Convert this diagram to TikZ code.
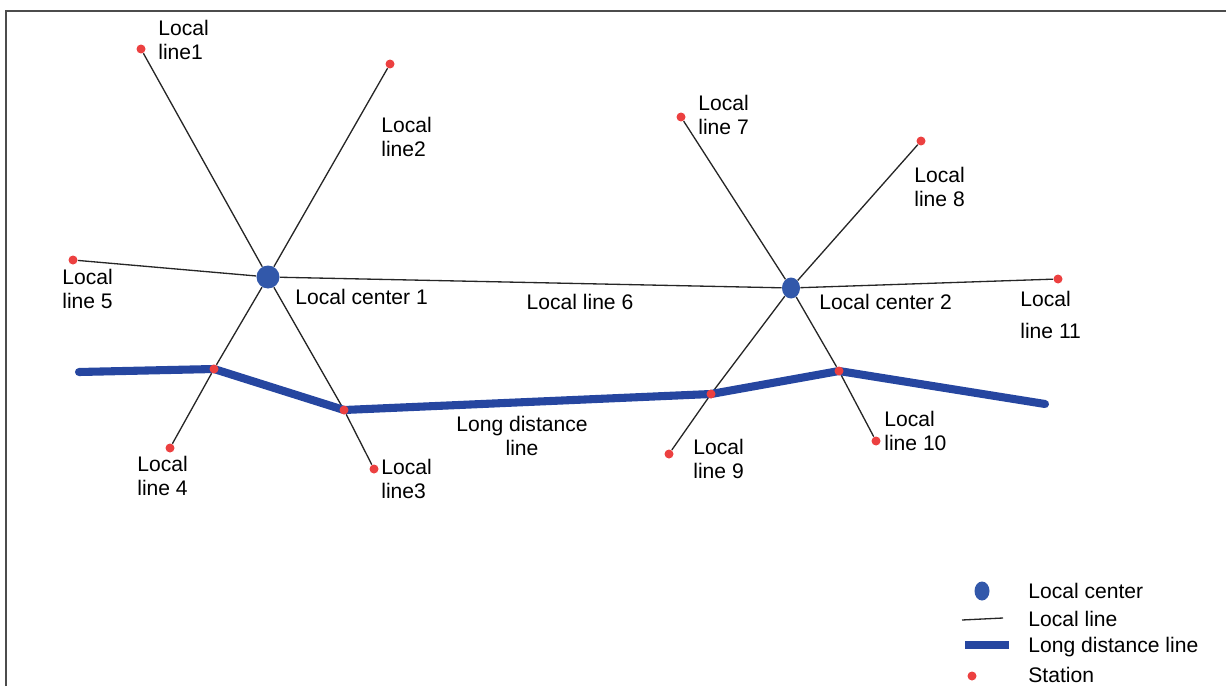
\documentclass[tikz,border=0pt]{standalone}
\usepackage{fontspec}
\setmainfont{Liberation Sans}
\usetikzlibrary{shapes.geometric,backgrounds}
\definecolor{ldblue}{RGB}{38,70,160}
\definecolor{ctblue}{RGB}{50,88,170}
\definecolor{stred}{RGB}{236,64,64}

\begin{document}
\begin{tikzpicture}[x=0.02cm,y=-0.02cm,ctr/.style={ellipse,fill=ctblue,inner sep=0pt},stn/.style={circle,fill=stred,inner sep=0pt,minimum size=.18cm},loc/.style={line width=.75pt,draw=black!85},ldl/.style={line width=4.6pt,draw=ldblue,line cap=round,line join=round},lbl/.style={align=left,anchor=west,inner sep=0pt,font=\large}]
\useasboundingbox (0,0) rectangle (1226,686);
\draw[line width=1pt,black!70] (6,686)--(6,11)--(1226,11);

\node[ctr,minimum width=.46cm,minimum height=.46cm] (c1) at(268,277) {};
\node[ctr,minimum width=.36cm,minimum height=.42cm] (c2) at(791,288) {};

\node[stn] (s1) at(141,49) {};
\node[stn] (s2) at(390,64) {};
\node[stn] (s3) at(374,469) {};
\node[stn] (s3a) at(344,410) {};
\node[stn] (s4) at(170,448) {};
\node[stn] (s4a) at(214,369) {};
\node[stn] (s5) at(73,260) {};
\node[stn] (s7) at(681,117) {};
\node[stn] (s8) at(921,141) {};
\node[stn] (s9) at(669,454) {};
\node[stn] (s9a) at(711,394) {};
\node[stn] (s10) at(876,441) {};
\node[stn] (s10a) at(839,371) {};
\node[stn] (s11) at(1058,279) {};
\coordinate (w) at(79,372);
\coordinate (e) at(1045,404);

\begin{scope}[on background layer]
\draw[loc] (c1)--(s1);
\draw[loc] (c1)--(s2);
\draw[loc] (c1)--(s3a)--(s3);
\draw[loc] (c1)--(s4a)--(s4);
\draw[loc] (c1)--(s5);
\draw[loc] (c1)--(c2);
\draw[loc] (c2)--(s7);
\draw[loc] (c2)--(s8);
\draw[loc] (c2)--(s9a)--(s9);
\draw[loc] (c2)--(s10a)--(s10);
\draw[loc] (c2)--(s11);
\draw[ldl] (w)--(s4a.center)--(s3a.center)--(s9a.center)--(s10a.center)--(e);
\end{scope}

\node[lbl] (l1) at(158,40) {Local\\line1};
\node[lbl] (l2) at(381,137) {Local\\line2};
\node[lbl] (l3) at(381,479) {Local\\line3};
\node[lbl] (l4) at(137,476) {Local\\line 4};
\node[lbl] (l5) at(62,289) {Local\\line 5};
\node[lbl,anchor=center] (l6) at(580,302) {Local line 6};
\node[lbl] (l7) at(698,115) {Local\\line 7};
\node[lbl] (l8) at(914,187) {Local\\line 8};
\node[lbl] (l9) at(693,459) {Local\\line 9};
\node[lbl] (l10) at(884,431) {Local\\line 10};
\node[lbl] (l11) at(1020,315) {Local\\[4pt]line 11};
\node[lbl] (lc1) at(295,297) {Local center 1};
\node[lbl] (lc2) at(819,302) {Local center 2};
\node[lbl,align=center,anchor=center] (ld) at(522,436) {Long distance\\line};

\node[ctr,minimum width=.3cm,minimum height=.38cm] (kc) at(982,591) {};
\coordinate (kla) at(962,620);
\coordinate (klb) at(1003,618);
\coordinate (kda) at(965,645);
\coordinate (kdb) at(1009,645);
\node[stn] (ks) at(972,676) {};
\draw[loc] (kla)--(klb);
\draw[ldl,line cap=butt] (kda)--(kdb);
\node[lbl] (tc) at(1028,591) {Local center};
\node[lbl] (tl) at(1028,619) {Local line};
\node[lbl] (td) at(1028,647) {Long distance line};
\node[lbl] (ts) at(1028,675) {Station};
\end{tikzpicture}
\end{document}
